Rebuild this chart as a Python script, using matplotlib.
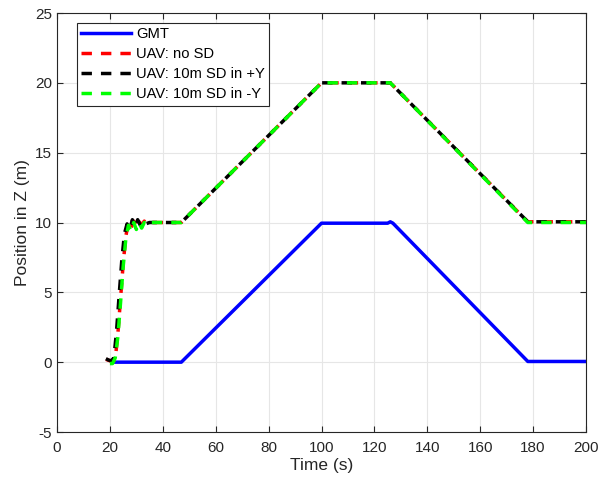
import numpy as np
import matplotlib.pyplot as plt

plt.rcParams['font.family'] = ['Liberation Sans', 'DejaVu Sans']
plt.rcParams['axes.unicode_minus'] = False

# ground moving target
gmt_t = [22, 47, 100, 125, 126, 127, 178, 200]
gmt_z = [0, 0, 9.95, 9.95, 10.05, 9.95, 0.05, 0.05]

# UAV tracks
nosd_t = [18.5, 20, 21, 22, 23, 24, 25, 26, 27, 28, 29, 30, 31, 32, 33, 34, 35, 38, 42, 47,
          100, 126, 178, 200]
nosd_z = [0.2, 0.1, 0.0, 0.2, 2.0, 4.5, 7.0, 9.0, 10.0, 9.6, 10.1, 9.7, 10.1, 9.8, 10.1, 9.9, 10.0, 10.0, 10.0, 10.0,
          20.0, 20.0, 10.05, 10.05]
py_t = [18.5, 19.5, 20.5, 21.5, 22.5, 23.5, 24.5, 25.5, 26.5, 27.5, 28.5, 29.5, 30.5, 31.5, 32.5, 33.5, 35, 38, 42, 47,
        100, 126, 178, 200]
py_z = [0.25, 0.15, 0.1, 0.3, 2.2, 4.8, 7.3, 9.2, 9.9, 9.5, 10.2, 9.6, 10.2, 9.8, 10.1, 9.9, 10.0, 10.0, 10.0, 10.0,
        20.0, 20.0, 10.05, 10.05]
my_t = [20, 21, 22, 23, 24, 25, 26, 27, 28, 29, 30, 31, 32, 33, 34, 35, 37, 40, 47,
        100, 126, 178, 200]
my_z = [-0.1, -0.1, 0.3, 1.8, 4.2, 6.8, 8.8, 9.8, 9.4, 10.0, 9.5, 10.0, 9.6, 10.0, 9.8, 10.0, 10.0, 10.0, 10.0,
        20.0, 20.0, 10.0, 10.0]

fig = plt.figure(figsize=(5.99, 4.84), dpi=100)
ax = fig.add_axes([57 / 599, 1 - 432 / 484, 529 / 599, 419 / 484])

dash = (0, (3, 2.6))
ax.plot(gmt_t, gmt_z, color='#0000ff', lw=2.5, label='GMT')
ax.plot(nosd_t, nosd_z, color='#ff0000', lw=2.5, ls=dash, label='UAV: no SD')
ax.plot(py_t, py_z, color='#000000', lw=2.5, ls=dash, label='UAV: 10m SD in +Y')
ax.plot(my_t, my_z, color='#00ff00', lw=2.5, ls=dash, label='UAV: 10m SD in -Y')

ax.set_xlim(0, 200)
ax.set_ylim(-5, 25)
ax.set_xticks(np.arange(0, 201, 20))
ax.set_yticks(np.arange(-5, 26, 5))
ax.grid(True, color='#e6e6e6', lw=0.8)
ax.set_axisbelow(True)
ax.tick_params(direction='in', labelsize=11, top=True, right=True, length=4,
               width=0.8, colors='#262626', labelcolor='#262626')
ax.tick_params(axis='x', pad=6.5)
ax.tick_params(axis='y', pad=3.5)
for s in ax.spines.values():
    s.set_linewidth(0.8)
    s.set_color('#262626')
ax.set_xlabel('Time (s)', fontsize=12.5, color='#262626', labelpad=2)
ax.set_ylabel('Position in Z (m)', fontsize=12.5, color='#262626', labelpad=4)

leg = ax.legend(loc='upper left', bbox_to_anchor=(20 / 529, 1 - 10 / 419), borderaxespad=0,
                fontsize=10.6, fancybox=False, edgecolor='#262626', framealpha=1,
                handlelength=3.4, borderpad=0.3, labelspacing=0.4, handletextpad=0.3)
leg.get_frame().set_linewidth(0.8)

plt.savefig('out.png', dpi=100)
